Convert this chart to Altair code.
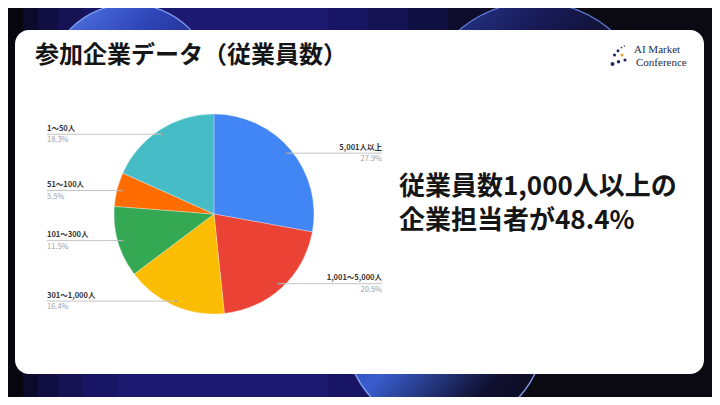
import altair as alt
import pandas as pd
import math

# ---------------- data ----------------
labels = ["5,001人以上", "1,001〜5,000人", "301〜1,000人", "101〜300人", "51〜100人", "1〜50人"]
values = [27.9, 20.5, 16.4, 11.5, 5.5, 18.3]
colors = ["#4285F4", "#EA4335", "#FBBC04", "#34A853", "#FF6D01", "#46BDC6"]

TITLE = "参加企業データ（従業員数）"
HEAD_LINES = ["従業員数1,000人以上の", "企業担当者が48.4%"]
LOGO_LINES = ["AI Market", "Conference"]

# ---------------- layout (page px minus 8px body margin) ----------------
OX, OY = 8, 8
W, H = 720 - 2 * OX, 405 - 2 * OY
CX, CY, R = 214 - OX, 214 - OY, 100
LEAD_R = 95
LEFT_X, RIGHT_X = 47 - OX, 382 - OX
JP = "Noto Sans CJK JP"
TWO_PI = 2 * math.pi

df = pd.DataFrame({"label": labels, "value": values, "idx": list(range(len(labels)))})

# background bands (left dark -> indigo -> dark right)
band_x0 = [0, 15, 30, 50, 75, 110, 320, 360, 400, 440, 480, 520]
band_x1 = [15, 30, 50, 75, 110, 320, 360, 400, 440, 480, 520, W]
band_c = ["#08070f", "#0d0b2c", "#110f42", "#151354", "#181664", "#1b1970",
          "#181664", "#151354", "#111042", "#0e0d2e", "#0c0a1c", "#0b0912"]
bg = alt.Chart(pd.DataFrame({"x0": band_x0, "x1": band_x1, "c": band_c})).mark_rect(opacity=1).encode(
    x=alt.X("x0:Q", scale=None, axis=None), x2="x1:Q",
    y=alt.value(0), y2=alt.value(H),
    color=alt.Color("c:N", scale=None),
)

def wave(cx, cy, r, stops, stroke, sw):
    return alt.Chart(pd.DataFrame({"a": [1]})).mark_arc(
        radius=r, theta=0, theta2=TWO_PI,
        fill=alt.Gradient(gradient="linear", x1=0, y1=0, x2=1, y2=1,
                          stops=[alt.GradientStop(offset=o, color=c) for o, c in stops]),
        stroke=stroke, strokeWidth=sw, strokeOpacity=0.85,
    ).encode(x=alt.value(cx - OX), y=alt.value(cy - OY))

w1 = wave(130, 88, 84, [(0, "#5a82f0"), (0.35, "#2f46b8"), (0.7, "#1c1f78"), (1, "#16145a")], "#8fb0ff", 1.2)
w2 = wave(535, 118, 116, [(0, "#2c3f9e"), (0.3, "#171a56"), (0.6, "#0c0b1a"), (1, "#0b0a18")], "#6a8cf0", 1.3)
w3 = wave(445, 330, 100, [(0, "#1a1850"), (0.45, "#3a5ed0"), (0.75, "#101030"), (1, "#0b0a18")], "#8fb0ff", 1.5)

card = alt.Chart(pd.DataFrame({"a": [0]})).mark_rect(
    color="white", cornerRadius=14
).encode(x=alt.value(15 - OX), x2=alt.value(704 - OX), y=alt.value(30 - OY), y2=alt.value(374 - OY))

pie = alt.Chart(df).mark_arc(radius=R, stroke="white", strokeWidth=0.3).encode(
    theta=alt.Theta("value:Q", stack=True),
    color=alt.Color("label:N", scale=alt.Scale(domain=labels, range=colors), legend=None),
    order=alt.Order("idx:Q", sort="ascending"),
    x=alt.value(CX), y=alt.value(CY),
)

base = alt.Chart(df).transform_window(
    cum="sum(value)", sort=[alt.SortField("idx")], frame=[None, 0]
).transform_joinaggregate(total="sum(value)").transform_calculate(
    mid="(datum.cum - datum.value/2) / datum.total * 2 * PI",
).transform_calculate(
    px=f"{CX} + {LEAD_R} * sin(datum.mid)",
    py=f"{CY} - {LEAD_R} * cos(datum.mid)",
    right="sin(datum.mid) > 0",
).transform_calculate(
    lx=f"datum.right ? {RIGHT_X} : {LEFT_X}",
    ny="datum.py - 1.5",
    pyy="datum.py + 2",
    pct="format(datum.value, '.1f') + '%'",
)

X = lambda f: alt.X(f"{f}:Q", scale=None, axis=None)
Y = lambda f: alt.Y(f"{f}:Q", scale=None, axis=None)

rules = base.mark_rule(color="#c4c4c4", strokeWidth=1).encode(
    x=X("px"), x2="lx:Q", y=Y("py"))
dots = base.mark_circle(color="#9a9a9a", size=5, opacity=1).encode(x=X("px"), y=Y("py"))

def labels_side(is_right):
    sub = base.transform_filter("datum.right" if is_right else "!datum.right")
    al = "right" if is_right else "left"
    name = sub.mark_text(align=al, baseline="bottom", font=JP, fontSize=7.5,
                         fontWeight="bold", color="#333333").encode(
        x=X("lx"), y=Y("ny"), text="label:N")
    pct = sub.mark_text(align=al, baseline="top", font=JP, fontSize=7.5,
                        color="#a0a0a0").encode(
        x=X("lx"), y=Y("pyy"), text="pct:N")
    return name + pct

title = alt.Chart(pd.DataFrame({"t": [TITLE]})).mark_text(
    align="left", baseline="middle", font=JP, fontSize=24, fontWeight="bold", color="#151515"
).encode(text="t:N", x=alt.value(35 - OX), y=alt.value(56 - OY))

head = alt.Chart(pd.DataFrame({"t": HEAD_LINES, "i": [0, 1]})).transform_calculate(
    yy=f"{187 - OY} + datum.i * 34"
).mark_text(
    align="left", baseline="middle", font=JP, fontSize=26, fontWeight="bold", color="#151515"
).encode(text="t:N", x=alt.value(399 - OX), y=Y("yy"))

logo_txt = alt.Chart(pd.DataFrame({"t": LOGO_LINES, "xx": [634 - OX, 636 - OX], "yy": [50 - OY, 62.5 - OY]})).mark_text(
    align="left", baseline="middle", font="Liberation Serif", fontSize=11, color="#1f2a48"
).encode(text="t:N", x=X("xx"), y=Y("yy"))

dot_x = [624.3, 621.5, 618, 622, 614.5, 625, 618.5, 612.5]
dot_y = [46, 47.5, 50.8, 55, 55, 60, 61.7, 64]
dot_c = ["#1f2a60", "#1f2a60", "#1f2a60", "#e2a93b", "#1f2a60", "#1f2a60", "#1f2a60", "#1f2a60"]
dot_s = [2, 3, 9, 10, 10, 10, 12, 16]
logo_dots = alt.Chart(pd.DataFrame({"x": [v - OX for v in dot_x], "y": [v - OY for v in dot_y],
                                    "c": dot_c, "s": dot_s})).mark_circle(opacity=1).encode(
    x=X("x"), y=Y("y"), color=alt.Color("c:N", scale=None), size=alt.Size("s:Q", scale=None))

chart = alt.layer(
    bg, w1, w2, w3, card, pie, rules, dots, labels_side(False), labels_side(True),
    title, head, logo_txt, logo_dots
).resolve_scale(color="independent", size="independent").properties(
    width=W, height=H, padding=0, autosize=alt.AutoSizeParams(type="none")
).configure_view(stroke=None).configure(background="#0b0912")

chart.save("out.html", embed_options={"renderer": "svg", "actions": False})
